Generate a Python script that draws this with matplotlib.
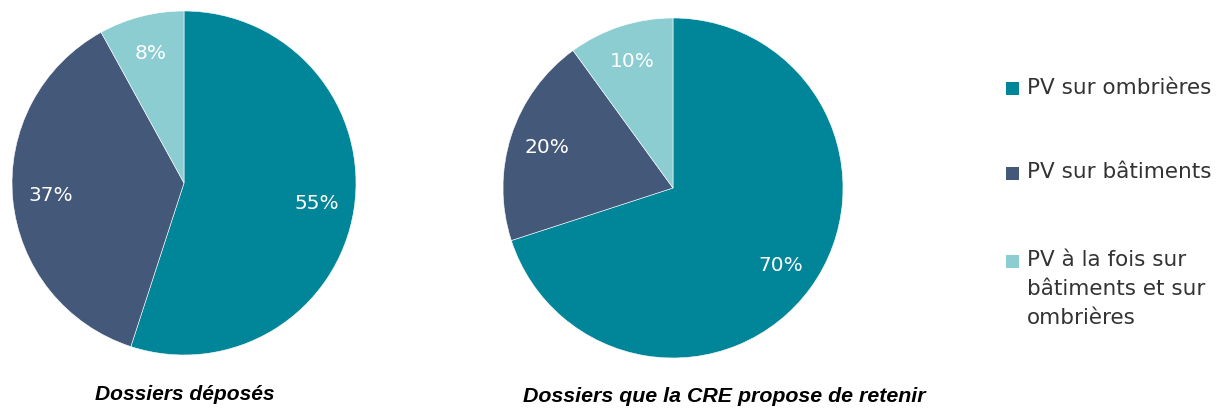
import matplotlib.pyplot as plt
from matplotlib.patches import Rectangle

# Data
categories = ['PV sur ombrières', 'PV sur bâtiments',
              'PV à la fois sur\nbâtiments et sur\nombrières']
deposes = [55, 37, 8]
retenus = [70, 20, 10]
titles = ['Dossiers déposés', 'Dossiers que la CRE propose de retenir']
colors = ['#008599', '#44587A', '#8CCDD1']

plt.rcParams['font.family'] = ['DejaVu Sans']

W, H = 1222, 408
fig = plt.figure(figsize=(W / 100, H / 100), dpi=100)


def px_axes(cx, cy, r):
    return fig.add_axes([(cx - r) / W, (H - cy - r) / H, 2 * r / W, 2 * r / H])


def draw_pie(ax, values):
    wedges, texts, autotexts = ax.pie(
        values, colors=colors, startangle=90, counterclock=False,
        autopct='%d%%', pctdistance=0.78,
        wedgeprops=dict(edgecolor='white', linewidth=0.4),
        textprops=dict(color='white', fontsize=14.5))
    ax.set_xlim(-1, 1)
    ax.set_ylim(-1, 1)
    ax.set_aspect('equal')
    ax.axis('off')
    return wedges


ax1 = px_axes(184, 183, 172)
draw_pie(ax1, deposes)
ax2 = px_axes(673, 188, 170)
draw_pie(ax2, retenus)

fig.text(185 / W, 1 - 394 / H, titles[0], ha='center', va='center',
         fontsize=15.1, fontweight='bold', fontstyle='italic',
         family='Liberation Sans')
fig.text(724 / W, 1 - 396 / H, titles[1], ha='center', va='center',
         fontsize=15.4, fontweight='bold', fontstyle='italic',
         family='Liberation Sans')

# legend, drawn by hand so the square sits on the first line
rows_y = [88.5, 173, 261]
for lab, col, y in zip(categories, colors, rows_y):
    fig.add_artist(Rectangle((1006 / W, 1 - (y + 6.5) / H), 13 / W, 13 / H,
                             transform=fig.transFigure, facecolor=col,
                             edgecolor='none'))
    fig.text(1027 / W, 1 - (y - 11) / H, lab, ha='left', va='top',
             fontsize=15.5, color='#333333', linespacing=1.55)

plt.savefig('out.png', dpi=100)
